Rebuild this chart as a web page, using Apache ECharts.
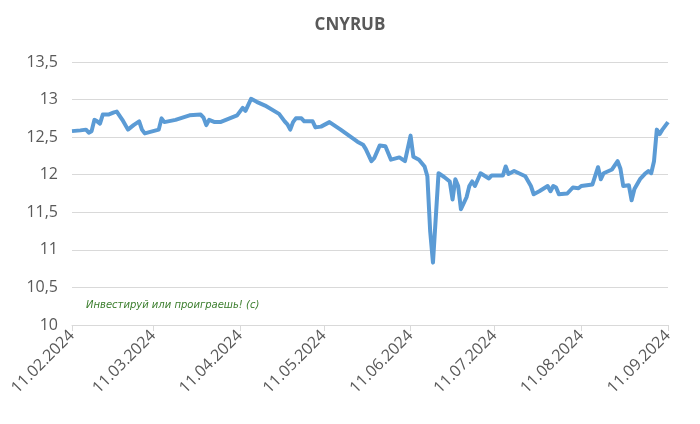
<!DOCTYPE html>
<html>
<head>
<meta charset="utf-8">
<script src="https://cdn.jsdelivr.net/npm/echarts@6/dist/echarts.min.js"></script>
<style>html,body{margin:0;padding:0;background:#fff}#main{width:700px;height:424px}</style>
</head>
<body>
<div id="main"></div>
<script>
// days since 11.02.2024
var days = [0,3,5,6,7,8,9,10,11,13,15,16,18,20,22,24,25,26,29,31,32,33,37,42,46,47,48,49,51,53,55,57,59,61,62,64,66,69,74,76,77,78,79,80,82,83,86,87,89,92,96,99,102,104,105,107,108,110,112,114,117,119,121,122,124,126,127,128,129,131,133,135,136,137,138,139,141,142,143,144,146,149,150,154,155,156,158,162,164,165,167,170,171,172,173,174,177,179,181,182,186,188,189,190,193,195,196,197,199,200,201,203,205,206,207,208,209,210,211,213];
var rates = [12.58,12.59,12.60,12.56,12.58,12.73,12.71,12.68,12.80,12.80,12.83,12.84,12.73,12.60,12.66,12.71,12.60,12.55,12.58,12.60,12.75,12.70,12.73,12.79,12.80,12.76,12.66,12.73,12.70,12.70,12.73,12.76,12.79,12.89,12.85,13.01,12.97,12.92,12.81,12.71,12.67,12.60,12.70,12.75,12.75,12.71,12.71,12.63,12.64,12.70,12.60,12.52,12.44,12.40,12.34,12.18,12.22,12.39,12.38,12.20,12.23,12.18,12.52,12.24,12.20,12.11,11.98,11.25,10.83,12.02,11.97,11.91,11.67,11.94,11.85,11.54,11.70,11.85,11.91,11.85,12.02,11.95,11.99,11.99,12.11,12.01,12.05,11.98,11.85,11.74,11.78,11.85,11.78,11.85,11.83,11.74,11.75,11.83,11.82,11.85,11.87,12.10,11.94,12.02,12.07,12.18,12.08,11.85,11.86,11.66,11.81,11.94,12.02,12.05,12.02,12.18,12.60,12.54,12.60,12.70];
var tickDays = [0,29,60,90,121,151,182,213];
var tickLabels = ['11.02.2024','11.03.2024','11.04.2024','11.05.2024','11.06.2024','11.07.2024','11.08.2024','11.09.2024'];

var data = [];
for (var i = 0; i < days.length; i++) data.push([days[i], rates[i]]);

var chart = echarts.init(document.getElementById('main'));
chart.setOption({
    animation: false,
    title: {
        text: 'CNYRUB', left: 'center', top: 12,
        textStyle: {fontFamily: 'Open Sans', fontSize: 17, fontWeight: 'bold', color: '#595959'}
    },
    grid: {left: 72, right: 32, top: 62, bottom: 99},
    graphic: [{
        type: 'text', left: 86, top: 300,
        style: {text: 'Инвестируй или проиграешь! (с)', fill: '#3a7d2c',
            font: 'italic 10px "DejaVu Sans"'}
    }],
    xAxis: {
        type: 'value', min: 0, max: 213,
        splitLine: {show: false},
        axisLine: {lineStyle: {color: '#d9d9d9'}},
        axisTick: {show: true, customValues: tickDays, length: 6, lineStyle: {color: '#d9d9d9'}},
        axisLabel: {
            customValues: tickDays, rotate: 45, fontSize: 16, color: '#595959',
            fontFamily: 'Open Sans', margin: 8,
            formatter: function (v) { return tickLabels[tickDays.indexOf(v)]; }
        }
    },
    yAxis: {
        type: 'value', min: 10, max: 13.5, interval: 0.5,
        axisLine: {show: false}, axisTick: {show: false},
        splitLine: {lineStyle: {color: '#d9d9d9'}},
        axisLabel: {
            fontSize: 16, color: '#595959', fontFamily: 'Open Sans', margin: 14,
            formatter: function (v) { return String(v).replace('.', ','); }
        }
    },
    series: [{
        type: 'line', data: data, symbol: 'none',
        lineStyle: {color: '#5b9bd5', width: 4, join: 'round'}
    }]
});
</script>
</body>
</html>
